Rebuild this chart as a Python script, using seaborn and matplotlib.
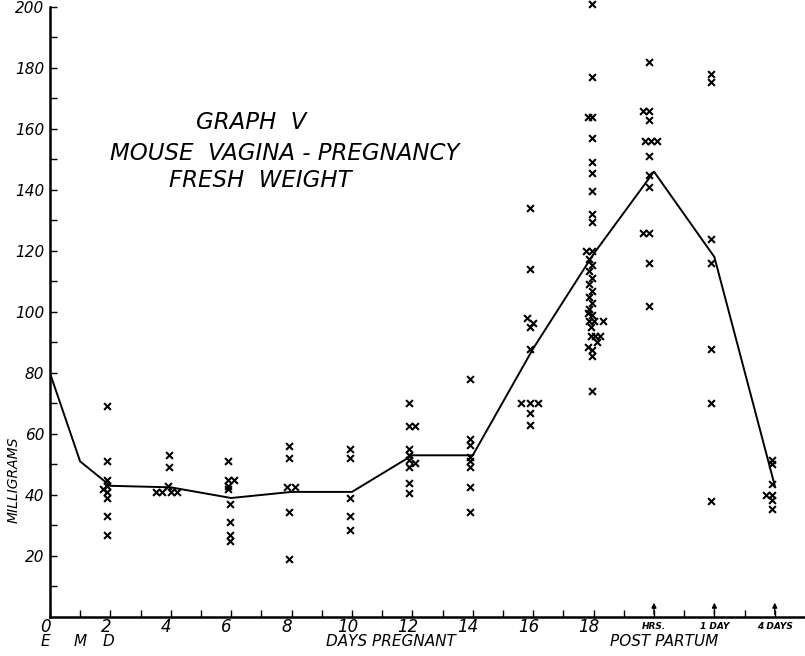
import numpy as np
import pandas as pd
import matplotlib
matplotlib.use("Agg")
import matplotlib.pyplot as plt
import seaborn as sns

# mean curve (days, mg)
line_day = [0, 1, 2, 4, 6, 8, 10, 12, 14, 16, 18, 20, 22, 24]
line_mg = [80, 51, 43, 42.5, 39, 41, 41, 53, 53, 88, 119, 146, 118, 43]

# individual animals
d2_day = [1.9, 1.9, 1.9, 1.9, 1.9, 1.9, 1.9, 1.9, 1.75]
d2_mg = [69, 51, 45, 43, 41, 39, 33, 27, 42]
d4_day = [3.95, 3.95, 3.9, 3.5, 3.7, 4.0, 4.2]
d4_mg = [53, 49, 43, 41, 41, 41, 41]
d6_day = [5.9, 5.9, 6.1, 5.9, 5.9, 5.95, 5.95, 5.95, 5.95]
d6_mg = [51, 45, 45, 43, 42, 37, 31, 27, 25]
d8_day = [7.9, 7.9, 7.85, 8.1, 7.9, 7.9]
d8_mg = [56, 52, 42.5, 42.5, 34.5, 19]
d10_day = [9.95, 9.95, 9.95, 9.95, 9.95]
d10_mg = [55, 52, 39, 33, 28.5]
d12_day = [11.9, 11.9, 12.1, 11.9, 11.9, 11.9, 12.1, 11.9, 11.9, 11.9]
d12_mg = [70, 62.5, 62.5, 55, 53, 51.5, 50.5, 49, 44, 40.5]
d14_day = [13.9, 13.9, 13.9, 13.9, 13.9, 13.9, 13.9, 13.9]
d14_mg = [78, 58.5, 56.5, 52.5, 51, 49, 42.5, 34.5]
d16_day = [15.9, 15.9, 15.8, 16.0, 15.9, 15.9, 15.6, 15.9, 16.15, 15.9, 15.9]
d16_mg = [134, 114, 98, 96.5, 95, 88, 70, 70, 70, 67, 63]
d18_day = [17.95, 17.95, 17.8, 17.95, 17.95, 17.95, 17.95, 17.95, 17.95, 17.95,
           17.75, 17.95, 17.85, 17.95, 17.85, 17.95, 17.85, 17.95, 17.85, 17.95,
           17.85, 17.8, 17.95, 17.85, 18.0, 18.3, 17.9, 17.9, 18.05, 18.2,
           18.1, 17.8, 17.95, 17.95, 17.95]
d18_mg = [201, 177, 164, 164, 157, 149, 145.5, 139.5, 132, 129.5,
          120, 120, 117.5, 115.5, 113.5, 111, 109, 107, 105, 103,
          101, 99.5, 99, 97, 97, 97, 95, 92, 92, 92,
          90, 88.5, 87.5, 85.5, 74]
d20_day = [19.85, 19.65, 19.85, 19.85, 19.7, 19.9, 20.1, 19.85, 19.85, 19.85, 19.65, 19.85, 19.85, 19.85]
d20_mg = [182, 166, 166, 163, 156, 156, 156, 151, 145, 141, 126, 126, 116, 102]
d22_day = [21.9, 21.9, 21.9, 21.9, 21.9, 21.9, 21.9]
d22_mg = [178, 175.5, 124, 116, 88, 70, 38]
d24_day = [23.9, 23.9, 23.9, 23.7, 23.9, 23.9, 23.9]
d24_mg = [51.5, 50, 43.5, 40, 40, 38.5, 35.5]

x_ticks = [0, 2, 4, 6, 8, 10, 12, 14, 16, 18]
x_tick_labels = ["0", "2", "4", "6", "8", "10", "12", "14", "16", "18"]
pp_days = [20, 22, 24]
pp_labels = ["HRS.", "1 DAY", "4 DAYS"]
stage_days = [-0.15, 1.0, 1.95]
stage_labels = ["E", "M", "D"]
y_ticks = [20, 40, 60, 80, 100, 120, 140, 160, 180, 200]

pts = pd.DataFrame({
    "day": d2_day + d4_day + d6_day + d8_day + d10_day + d12_day + d14_day
           + d16_day + d18_day + d20_day + d22_day + d24_day,
    "mg": d2_mg + d4_mg + d6_mg + d8_mg + d10_mg + d12_mg + d14_mg
          + d16_mg + d18_mg + d20_mg + d22_mg + d24_mg,
})
mean_df = pd.DataFrame({"day": line_day, "mg": line_mg})

sns.set_style("ticks")
plt.rcParams["font.family"] = ["DejaVu Sans"]
plt.rcParams["text.color"] = "black"
plt.rcParams["xtick.color"] = "black"
plt.rcParams["ytick.color"] = "black"
plt.rcParams["axes.edgecolor"] = "black"

fig = plt.figure(figsize=(8.05, 6.56), dpi=100)
ax = fig.add_axes([0.062, 0.0595, 0.938, 0.93])

sns.lineplot(data=mean_df, x="day", y="mg", color="black", linewidth=1.4,
             ax=ax, legend=False)
sns.scatterplot(data=pts, x="day", y="mg", marker="x", color="black",
                s=24, linewidth=1.5, ax=ax, legend=False)

ax.set_xlim(0, 25)
ax.set_ylim(0, 200)
ax.spines["top"].set_visible(False)
ax.spines["right"].set_visible(False)
ax.spines["left"].set_linewidth(1.8)
ax.spines["bottom"].set_linewidth(1.8)

ax.set_xticks(list(range(0, 25)))
ax.set_xticklabels([])
ax.tick_params(axis="x", direction="in", length=5, width=1)
ax.set_yticks(y_ticks)
ax.set_yticks(list(range(10, 200, 20)), minor=True)
ax.set_yticklabels([str(v) for v in y_ticks], fontstyle="italic", fontsize=11,
                   color="black")
ax.tick_params(axis="y", which="both", direction="in", length=5, width=1, pad=4)
ax.set_xlabel("")
ax.set_ylabel("")

tr = ax.get_xaxis_transform()
for d, lab in zip(x_ticks, x_tick_labels):
    ax.text(d - 0.15, -0.016, lab, transform=tr, ha="center", va="center",
            fontsize=12, fontstyle="italic")
for d, lab in zip(pp_days, pp_labels):
    ax.text(d, -0.016, lab, transform=tr, ha="center", va="center",
            fontsize=6.5, fontstyle="italic", fontweight="bold")
    ax.annotate("", xy=(d, 0.028), xytext=(d, 0.0), xycoords=tr, textcoords=tr,
                arrowprops=dict(arrowstyle="-|>", color="black", lw=1,
                                mutation_scale=7))
for d, lab in zip(stage_days, stage_labels):
    ax.text(d, -0.041, lab, transform=tr, ha="center", va="center",
            fontsize=11, fontstyle="italic")
ax.text(11.3, -0.041, "DAYS PREGNANT", transform=tr, ha="center", va="center",
        fontsize=11, fontstyle="italic")
ax.text(20.35, -0.041, "POST PARTUM", transform=tr, ha="center", va="center",
        fontsize=11, fontstyle="italic")
ax.text(-1.2, 45, "MILLIGRAMS", rotation=90, ha="center", va="center",
        fontsize=10, fontstyle="italic")

ax.text(6.65, 162, "GRAPH  V", ha="center", va="center", fontsize=16.5,
        fontstyle="italic")
ax.text(2.0, 152, "MOUSE  VAGINA - PREGNANCY", ha="left", va="center",
        fontsize=16.5, fontstyle="italic")
ax.text(3.95, 143, "FRESH  WEIGHT", ha="left", va="center", fontsize=16.5,
        fontstyle="italic")

for c in ax.collections:
    c.set_clip_on(False)

fig.savefig("out.png", dpi=100)
